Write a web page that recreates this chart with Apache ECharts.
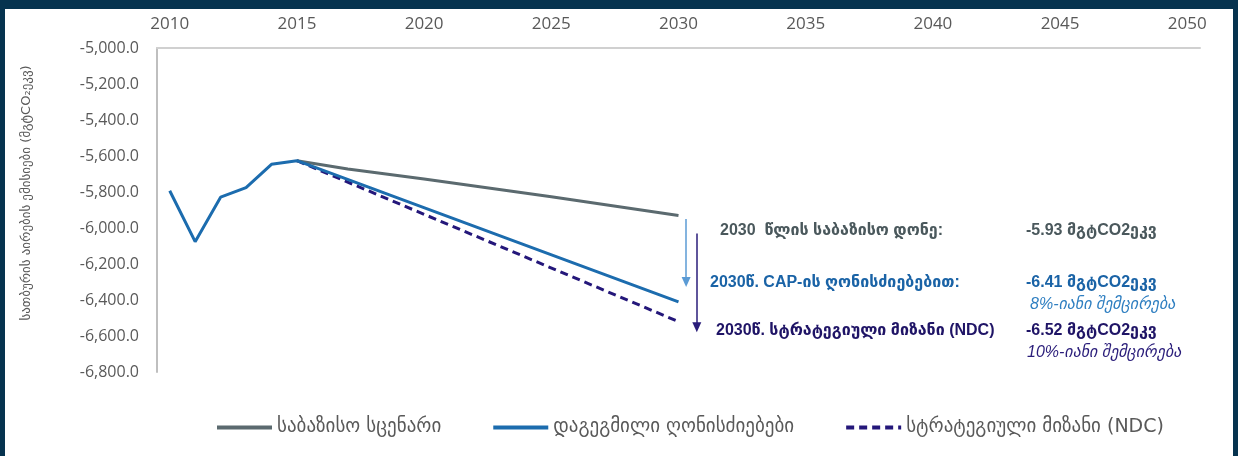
<!DOCTYPE html>
<html><head><meta charset="utf-8">
<script src="https://cdn.jsdelivr.net/npm/echarts@6/dist/echarts.min.js"></script>
<style>
html,body{margin:0;padding:0;background:#06334f;width:1238px;height:456px;overflow:hidden}
#c{position:absolute;left:5px;top:9px;width:1228px;height:447px;background:#ffffff}
</style>
</head><body><div id="c"></div>
<script>
// ---- data ----
const xTickLabels = [2010, 2015, 2020, 2025, 2030, 2035, 2040, 2045, 2050];
const histYears  = [2010, 2011, 2012, 2013, 2014, 2015];
const histValues = [-5793, -6076, -5829, -5776, -5646, -5626];
const capYears   = [2030];
const capValues  = [-6410];
const baseYears  = [2015, 2017, 2020, 2025, 2030];
const baseValues = [-5626, -5672, -5728, -5826, -5930];
const ndcYears   = [2015, 2030];
const ndcValues  = [-5626, -6520];
const seriesNames = ['საბაზისო სცენარი', 'დაგეგმილი ღონისძიებები', 'სტრატეგიული მიზანი (NDC)'];
const yAxisName = 'სათბურის აირების ემისიები (მგტCO₂ეკვ)';

const pairs = (xs, ys) => xs.map((x, i) => [x, ys[i]]);
const capSeries = pairs(histYears, histValues).concat(pairs(capYears, capValues));

const GRAY = '#5b6a6f', BLUE = '#1c6cae', NAVY = '#24177a';
const LBL = '#595959';
const FONT = '"Liberation Sans", "DejaVu Sans", sans-serif';
const LFONT = '"Open Sans", "DejaVu Sans", sans-serif';

const chart = echarts.init(document.getElementById('c'), null, {renderer: 'canvas'});
chart.setOption({
  backgroundColor: '#ffffff',
  animation: false,
  grid: {left: 152, right: 33, top: 39, bottom: 84},
  xAxis: {
    type: 'value', position: 'top', min: 2009.5, max: 2050.5,
    axisLine: {show: true, lineStyle: {color: '#d0d0d0', width: 2}},
    axisTick: {show: false}, splitLine: {show: false},
    axisLabel: {customValues: xTickLabels, formatter: v => String(v), color: LBL, fontSize: 17, fontFamily: LFONT, margin: 15}
  },
  yAxis: {
    type: 'value', min: -6800, max: -5000, interval: 200,
    axisLine: {show: true, lineStyle: {color: '#bfbfbf', width: 2}},
    axisTick: {show: false}, splitLine: {show: false},
    axisLabel: {formatter: v => v.toLocaleString('en-US', {minimumFractionDigits: 1, maximumFractionDigits: 1}), color: LBL, fontSize: 16, fontFamily: LFONT, margin: 18},
    name: yAxisName, nameLocation: 'middle', nameGap: 124, nameRotate: 90,
    nameTextStyle: {color: LBL, fontSize: 13, fontFamily: '"DejaVu Sans", sans-serif', padding: [0, 0, 0, 34]}
  },
  legend: {
    top: 404, left: 205, itemWidth: 55, itemHeight: 12, itemGap: 50,
    itemStyle: {opacity: 0},
    lineStyle: {width: 4},
    textStyle: {color: LBL, fontSize: 19, fontFamily: '"DejaVu Sans", sans-serif'},
    data: seriesNames
  },
  series: [
    {name: seriesNames[0], type: 'line', data: pairs(baseYears, baseValues), symbol: 'none',
     lineStyle: {color: GRAY, width: 3}, itemStyle: {color: GRAY}, z: 3,
     markLine: {silent: true, symbol: ['none', 'triangle'], symbolSize: [9, 10], label: {show: false},
       data: [
         [{coord: [2030.3, -5950], lineStyle: {color: '#5b9bd5', width: 1.5, type: 'solid'}, itemStyle: {color: '#5b9bd5'}}, {coord: [2030.3, -6300]}],
         [{coord: [2030.72, -6030], lineStyle: {color: '#2a1d7a', width: 1.5, type: 'solid'}, itemStyle: {color: '#2a1d7a'}}, {coord: [2030.72, -6552]}]
       ]}},
    {name: seriesNames[1], type: 'line', data: capSeries, symbol: 'none',
     lineStyle: {color: BLUE, width: 3}, itemStyle: {color: BLUE}, z: 4},
    {name: seriesNames[2], type: 'line', data: pairs(ndcYears, ndcValues), symbol: 'none',
     lineStyle: {color: NAVY, width: 3, type: [8, 5]}, itemStyle: {color: NAVY}, z: 2}
  ],
  graphic: [
    {type: 'text', left: 715, top: 214, style: {text: '2030  წლის საბაზისო დონე:', fill: '#4a585c', font: 'bold 16px ' + FONT}},
    {type: 'text', left: 1021, top: 214, style: {text: '-5.93 მგტCO2ეკვ', fill: '#4a585c', font: 'bold 16px ' + FONT}},
    {type: 'text', left: 705, top: 266, style: {text: '2030წ. CAP-ის ღონისძიებებით:', fill: '#1a63a6', font: 'bold 16px ' + FONT}},
    {type: 'text', left: 1021, top: 266, style: {text: '-6.41 მგტCO2ეკვ', fill: '#1a63a6', font: 'bold 16px ' + FONT}},
    {type: 'text', left: 1025, top: 288, style: {text: '8%-იანი შემცირება', fill: '#2f7fc1', font: 'italic 16px ' + FONT}},
    {type: 'text', left: 711, top: 314, style: {text: '2030წ. სტრატეგიული მიზანი (NDC)', fill: '#1f1466', font: 'bold 16px ' + FONT}},
    {type: 'text', left: 1021, top: 314, style: {text: '-6.52 მგტCO2ეკვ', fill: '#1f1466', font: 'bold 16px ' + FONT}},
    {type: 'text', left: 1022, top: 336, style: {text: '10%-იანი შემცირება', fill: '#2a1d7a', font: 'italic 16px ' + FONT}}
  ]
});
</script>
</body></html>
